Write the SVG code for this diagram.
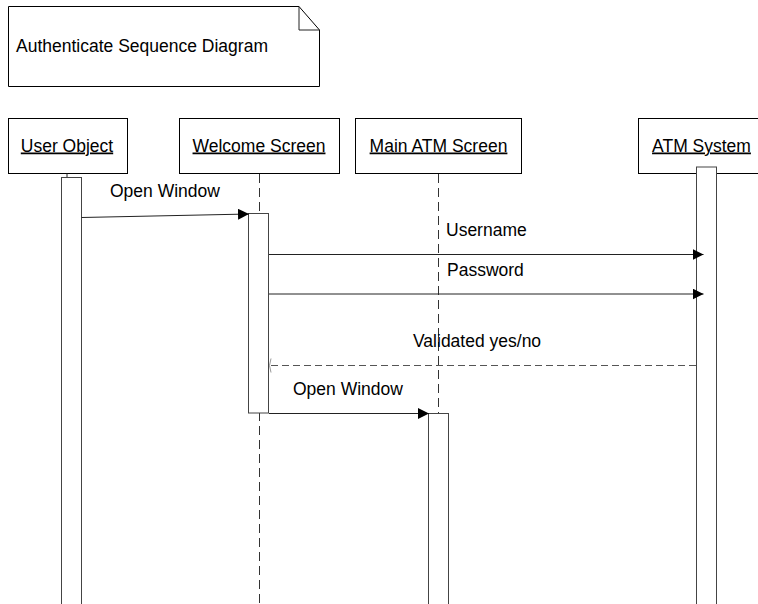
<svg xmlns="http://www.w3.org/2000/svg" width="758" height="604" viewBox="0 0 758 604">
  <style>
    .box { fill: #fff; stroke: #000; stroke-width: 1; }
    .bar { fill: #fff; stroke: #444; stroke-width: 1; }
    .life { fill: none; stroke: #333; stroke-width: 1; stroke-dasharray: 9 5; }
    .msg { fill: none; stroke: #222; stroke-width: 1; }
    .ret { fill: none; stroke: #555; stroke-width: 1; stroke-dasharray: 7 4; }
    text { font-family: "Liberation Sans", Arial, sans-serif; font-size: 17.5px; fill: #000; }
    .head { text-anchor: middle; text-decoration: underline; }
  </style>
  <defs>
    <marker id="solidHead" markerWidth="11" markerHeight="11" refX="11" refY="5.5" orient="auto" markerUnits="userSpaceOnUse">
      <path d="M0,0 L11,5.5 L0,11 Z" fill="#000"/>
    </marker>
  </defs>
  <rect width="758" height="604" fill="#fff"/>

  <!-- title note -->
  <g id="note">
    <path class="box" d="M8.5,6.5 H299 L319.5,30 V86.5 H8.5 Z"/>
    <path class="msg" d="M299,6.5 V30 H319.5"/>
    <text x="16" y="52">Authenticate Sequence Diagram</text>
  </g>

  <!-- lifelines -->
  <g id="user-object">
    <rect class="box" x="8.5" y="118.5" width="119" height="55"/>
    <text class="head" x="67" y="151.5">User Object</text>
    <line class="msg" x1="67" y1="173.5" x2="67" y2="177.5"/>
    <rect class="bar" x="61.5" y="177.5" width="20" height="440"/>
  </g>

  <g id="welcome-screen">
    <rect class="box" x="179.5" y="118.5" width="160" height="55"/>
    <text class="head" x="259" y="151.5">Welcome Screen</text>
    <line class="life" x1="259.5" y1="174" x2="259.5" y2="604"/>
    <rect class="bar" x="248.5" y="213.5" width="20" height="199.5"/>
  </g>

  <g id="main-atm-screen">
    <rect class="box" x="355.5" y="118.5" width="166" height="55"/>
    <text class="head" x="438.5" y="151.5">Main ATM Screen</text>
    <line class="life" x1="438.5" y1="174" x2="438.5" y2="604"/>
    <rect class="bar" x="428.5" y="413.5" width="20" height="200"/>
  </g>

  <g id="atm-system">
    <rect class="box" x="638.5" y="118.5" width="130" height="55"/>
    <text class="head" x="701.5" y="151.5">ATM System</text>
    <rect class="bar" x="696.5" y="167" width="20" height="450"/>
  </g>

  <!-- messages -->
  <g id="connectors">
    <line class="msg" x1="81.5" y1="217.5" x2="249" y2="214" marker-end="url(#solidHead)"/>
    <text x="110" y="197">Open Window</text>

    <line class="msg" x1="269" y1="254.5" x2="703.5" y2="254.5" marker-end="url(#solidHead)"/>
    <text x="446" y="236">Username</text>

    <line class="msg" x1="269" y1="294" x2="703.5" y2="294" marker-end="url(#solidHead)"/>
    <text x="447" y="276">Password</text>

    <line class="ret" x1="696" y1="365.5" x2="270" y2="365.5"/>
    <polyline points="271,358.5 269.5,365.5 271,372.5" fill="none" stroke="#999" stroke-width="1"/>
    <text x="413" y="347">Validated yes/no</text>

    <line class="msg" x1="269" y1="413.5" x2="429" y2="413.5" marker-end="url(#solidHead)"/>
    <text x="293" y="395">Open Window</text>
  </g>
</svg>
